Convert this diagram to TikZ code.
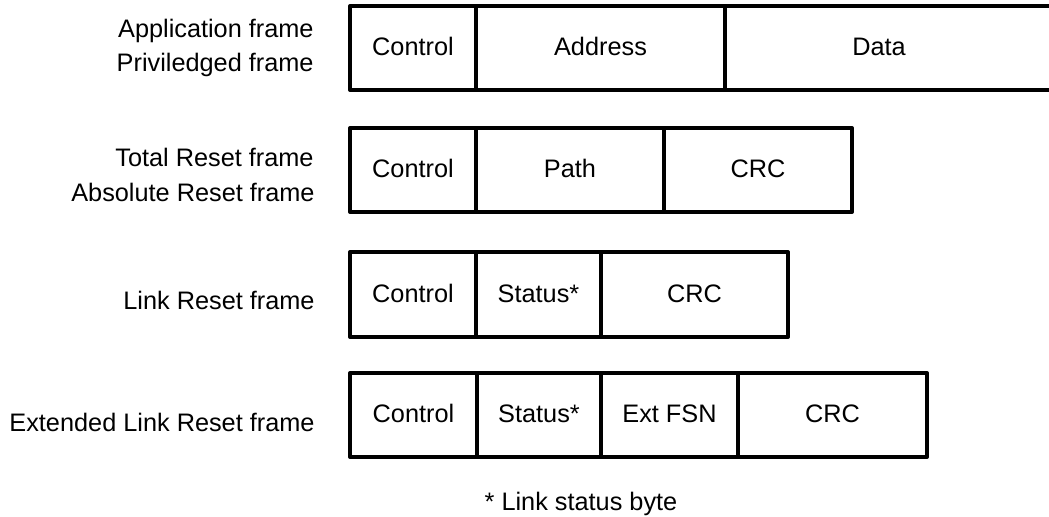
\documentclass[tikz,border=0pt]{standalone}
\usepackage{fontspec}
\setmainfont{Liberation Sans}
\newcommand\fieldfont{\fontsize{12.65}{17}\selectfont}
\begin{document}
\begin{tikzpicture}[x=0.5pt,y=-0.5pt,
  field/.style={draw, line width=2pt, line join=round, inner sep=0pt, outer sep=0pt,
                minimum height=42pt, font=\fieldfont, text height=0.78em, text depth=0pt},
  lbl/.style={anchor=base east, inner sep=0pt, font=\fieldfont},
  txt/.style={inner sep=0pt, font=\fieldfont, text height=0.78em, text depth=0pt}]
\useasboundingbox (0,0) rectangle (1049,516);
% Row 1
\node[field, minimum width=63pt]    (r1c) at (413,48)   {Control};
\node[field, minimum width=124.5pt] (r1a) at (600.5,48) {Address};
\node[field, minimum width=165.5pt] (r1d) at (890.5,48) {};
\node[txt] (r1dt) at (879,48) {Data};
% Row 2
\node[field, minimum width=63pt] (r2c) at (413,170) {Control};
\node[field, minimum width=94pt] (r2p) at (570,170) {Path};
\node[field, minimum width=94pt] (r2r) at (758,170) {CRC};
% Row 3
\node[field, minimum width=63pt,   minimum height=42.5pt] (r3c) at (413,294.5)   {Control};
\node[field, minimum width=62.5pt, minimum height=42.5pt] (r3s) at (538.5,294.5) {Status*};
\node[field, minimum width=93.5pt, minimum height=42.5pt] (r3r) at (694.5,294.5) {CRC};
% Row 4
\node[field, minimum width=63.5pt] (r4c) at (413.5,415) {Control};
\node[field, minimum width=62pt]   (r4s) at (539,415)   {Status*};
\node[field, minimum width=68.5pt] (r4e) at (669.5,415) {Ext FSN};
\node[field, minimum width=94.5pt] (r4r) at (832.5,415) {CRC};
% Labels
\node[lbl] (lapp)   at (314,37.7)  {Application frame};
\node[lbl] (lpriv)  at (314,71.7)  {Priviledged frame};
\node[lbl] (ltotal) at (314,166.7) {Total Reset frame};
\node[lbl] (labs)   at (315,201)   {Absolute Reset frame};
\node[lbl] (llink)  at (315,309.3) {Link Reset frame};
\node[lbl] (lext)   at (315,431.7) {Extended Link Reset frame};
\node[txt, anchor=base] (note) at (581,510) {* Link status byte};
\end{tikzpicture}
\end{document}
